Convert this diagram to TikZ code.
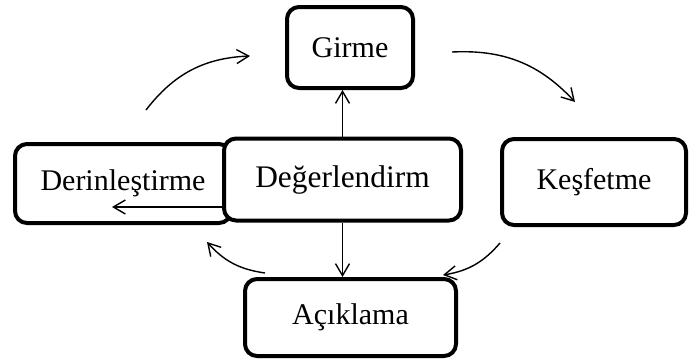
\documentclass[tikz,border=0pt]{standalone}
\usepackage{fontspec}
\setmainfont{Liberation Serif}
\usetikzlibrary{arrows.meta}

\begin{document}
\begin{tikzpicture}[x=0.5pt, y=-0.5pt, >={Straight Barb[length=6pt,width=7pt]},
  every node/.style={font=\fontsize{15}{18}\selectfont, align=center},
  box/.style={draw, line width=2pt, rounded corners=6pt, fill=white, inner sep=0pt},
  link/.style={->, line width=0.7pt}]
  \useasboundingbox (0,0) rectangle (690,360);
  % boxes
  \node[box, minimum width=63pt, minimum height=40.5pt] (gir) at (350,47.5) {Girme};
  \node[box, minimum width=108pt, minimum height=39.5pt] (der) at (123,183.5) {Derinleştirme};
  \node[box, minimum width=118.5pt, minimum height=41pt, font=\fontsize{15.7}{19}\selectfont] (deg) at (342.5,179.5) {Değerlendirm};
  \node[box, minimum width=92pt, minimum height=43pt] (kes) at (594,182) {Keşfetme};
  \node[box, minimum width=105.5pt, minimum height=38.5pt] (aci) at (350.5,317.5) {Açıklama};
  % free ends of the arrows
  \coordinate (dtip) at (112,207);
  \coordinate (c1s) at (146,110);
  \coordinate (c1e) at (250,56);
  \coordinate (c2s) at (452,52);
  \coordinate (c2e) at (575,102);
  \coordinate (c3s) at (500,243);
  \coordinate (c3e) at (443,275);
  \coordinate (c4s) at (265,273);
  \coordinate (c4e) at (207,242);
  % arrows
  \draw[link] (deg.north) -- (deg.north |- gir.south);
  \draw[link] (deg.south) -- (deg.south |- aci.north);
  \draw[link] (deg.west |- dtip) -- (dtip);
  \draw[link] (c1s) to[bend left=25] (c1e);
  \draw[link] (c2s) to[bend left=25] (c2e);
  \draw[link] (c3s) to[bend left=20] (c3e);
  \draw[link] (c4s) to[bend left=20] (c4e);
\end{tikzpicture}
\end{document}
